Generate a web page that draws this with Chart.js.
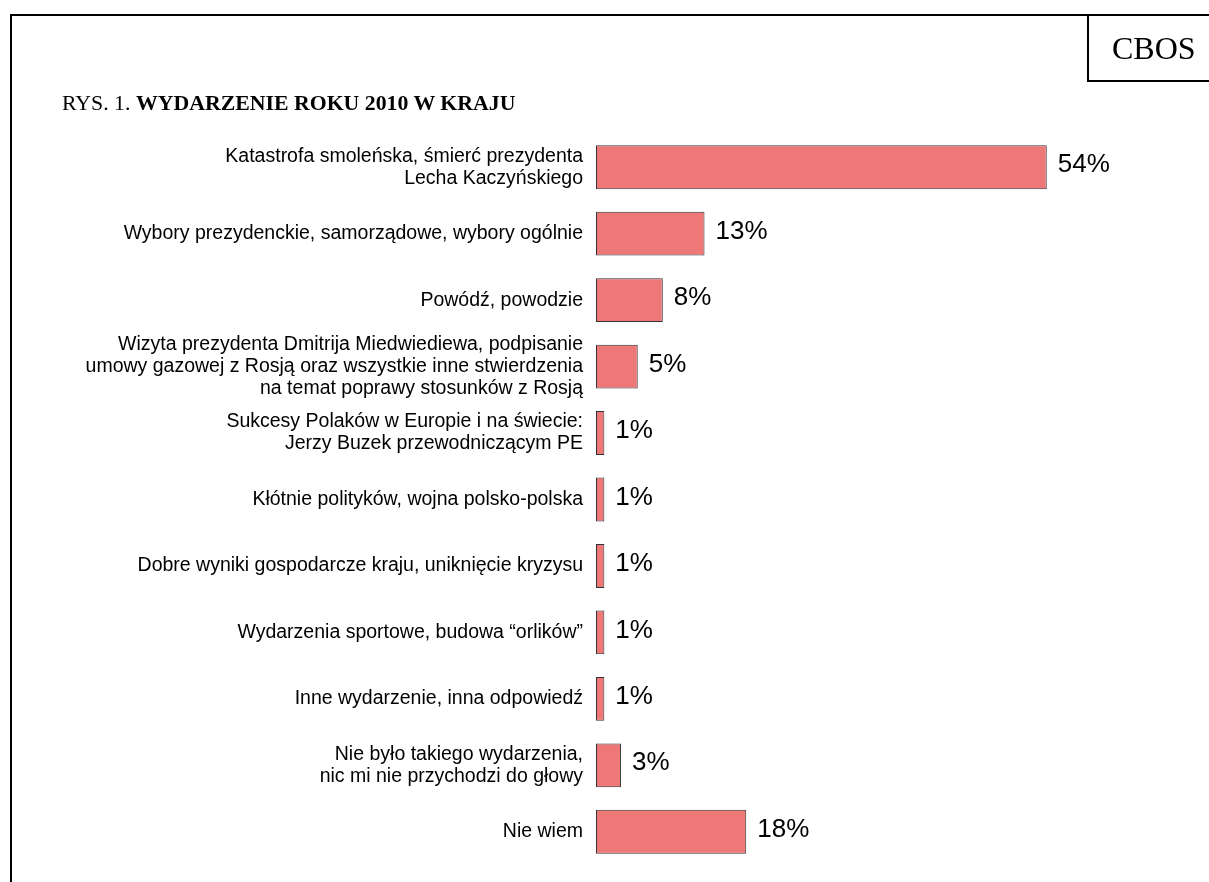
<!DOCTYPE html>
<html>
<head>
<meta charset="utf-8">
<script src="https://cdn.jsdelivr.net/npm/chart.js@4"></script>
<style>
  html, body { margin: 0; padding: 0; background: #fff; }
  #wrap { position: relative; width: 1209px; height: 882px; overflow: hidden; }
  #c { position: absolute; left: 0; top: 0; }
  .frameTop { position: absolute; left: 10px; top: 14px; width: 1199px; height: 2px; background: #000; }
  .frameLeft { position: absolute; left: 10px; top: 14px; width: 2px; height: 868px; background: #000; }
  .boxLeft { position: absolute; left: 1087px; top: 14px; width: 2px; height: 68px; background: #000; }
  .boxBottom { position: absolute; left: 1087px; top: 80px; width: 122px; height: 2px; background: #000; }
  .cbos { position: absolute; left: 1112px; top: 16px; height: 64px; line-height: 64px; white-space: nowrap;
          font-family: "Liberation Serif", "Times New Roman", serif; font-size: 32px; color: #000; }
  .title { position: absolute; left: 62px; top: 90px; font-family: "Liberation Serif", "Times New Roman", serif;
           font-size: 21.8px; color: #000; white-space: nowrap; line-height: 26px; }
  .title b { font-weight: bold; }
</style>
</head>
<body>
<div id="wrap">
  <canvas id="c" width="1209" height="882"></canvas>
  <div class="frameTop"></div>
  <div class="frameLeft"></div>
  <div class="boxLeft"></div>
  <div class="boxBottom"></div>
  <div class="cbos">CBOS</div>
  <div class="title">RYS. 1. <b>WYDARZENIE ROKU 2010 W KRAJU</b></div>
</div>
<script>
const categories = [
  ["Katastrofa smoleńska, śmierć prezydenta", "Lecha Kaczyńskiego"],
  "Wybory prezydenckie, samorządowe, wybory ogólnie",
  "Powódź, powodzie",
  ["Wizyta prezydenta Dmitrija Miedwiediewa, podpisanie", "umowy gazowej z Rosją oraz wszystkie inne stwierdzenia", "na temat poprawy stosunków z Rosją"],
  ["Sukcesy Polaków w Europie i na świecie:", "Jerzy Buzek przewodniczącym PE"],
  "Kłótnie polityków, wojna polsko-polska",
  "Dobre wyniki gospodarcze kraju, uniknięcie kryzysu",
  "Wydarzenia sportowe, budowa “orlików”",
  "Inne wydarzenie, inna odpowiedź",
  ["Nie było takiego wydarzenia,", "nic mi nie przychodzi do głowy"],
  "Nie wiem"
];
const values = [54, 13, 8, 5, 1, 1, 1, 1, 1, 3, 18];
const valueLabels = ["54%", "13%", "8%", "5%", "1%", "1%", "1%", "1%", "1%", "3%", "18%"];

const valueLabelPlugin = {
  id: 'valueLabels',
  afterDatasetsDraw(chart) {
    const ctx = chart.ctx;
    const meta = chart.getDatasetMeta(0);
    ctx.save();
    ctx.font = '26px "Liberation Sans", Arial, sans-serif';
    ctx.fillStyle = '#000';
    ctx.textAlign = 'left';
    ctx.textBaseline = 'middle';
    meta.data.forEach((bar, i) => {
      ctx.fillText(valueLabels[i], bar.x + 11, bar.y - 2);
    });
    ctx.restore();
  }
};

new Chart(document.getElementById('c'), {
  type: 'bar',
  data: {
    labels: categories,
    datasets: [{
      data: values,
      backgroundColor: 'rgb(238,120,120)',
      borderColor: '#333333',
      borderWidth: 1,
      borderSkipped: false,
      categoryPercentage: 1.0,
      barPercentage: 0.66
    }]
  },
  options: {
    indexAxis: 'y',
    responsive: false,
    animation: false,
    devicePixelRatio: 1,
    layout: { padding: { left: 0, right: 12, top: 134, bottom: 17 } },
    plugins: { legend: { display: false }, tooltip: { enabled: false } },
    scales: {
      x: {
        display: false,
        min: 0,
        max: 72
      },
      y: {
        grid: { display: false, drawTicks: false },
        border: { display: false },
        afterFit(scale) { scale.width = 596; scale.paddingTop = 0; scale.paddingBottom = 0; },
        ticks: {
          autoSkip: false,
          padding: 13,
          color: '#000',
          font: { family: '"Liberation Sans", Arial, sans-serif', size: 19.5, lineHeight: 1.13 }
        }
      }
    }
  },
  plugins: [valueLabelPlugin]
});
</script>
</body>
</html>
